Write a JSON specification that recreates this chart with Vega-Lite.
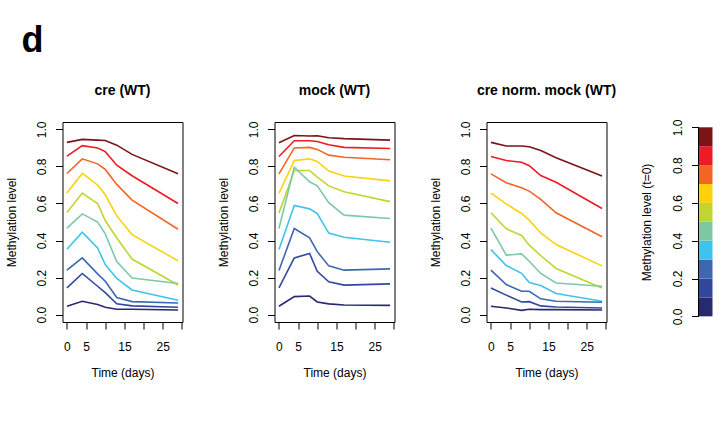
{
  "$schema": "https://vega.github.io/schema/vega-lite/v6.json",
  "background": "white",
  "padding": {"left": 4.5, "top": 23, "right": 5, "bottom": 5},
  "bounds": "flush",
  "spacing": 92,
  "title": {"text": "d", "anchor": "start", "frame": "group", "fontSize": 36, "fontWeight": "bold", "font": "Liberation Sans", "color": "black", "baseline": "alphabetic", "offset": -5, "dx": -41},
  "config": {
    "font": "Liberation Sans",
    "view": {"stroke": "black", "strokeWidth": 1},
    "axis": {"domain": false, "grid": false, "ticks": true, "tickColor": "black", "tickSize": 7, "tickWidth": 1, "labelColor": "black", "labelFontSize": 12, "labelFont": "Liberation Sans", "titleFont": "Liberation Sans", "titleFontSize": 12, "titleFontWeight": "normal", "titleColor": "black", "labelOverlap": false},
    "title": {"font": "Liberation Sans", "fontSize": 14, "fontWeight": "bold", "color": "black", "baseline": "alphabetic", "offset": 23.5}
  },
  "datasets": {
    "lines": [
      {"p":"cre","b":"b10","t":0,"m":0.93},{"p":"cre","b":"b10","t":4,"m":0.946},{"p":"cre","b":"b10","t":8,"m":0.942},{"p":"cre","b":"b10","t":10,"m":0.94},{"p":"cre","b":"b10","t":13,"m":0.915},{"p":"cre","b":"b10","t":17,"m":0.865},{"p":"cre","b":"b10","t":29,"m":0.76},
      {"p":"cre","b":"b9","t":0,"m":0.856},{"p":"cre","b":"b9","t":4,"m":0.912},{"p":"cre","b":"b9","t":8,"m":0.9},{"p":"cre","b":"b9","t":10,"m":0.88},{"p":"cre","b":"b9","t":13,"m":0.807},{"p":"cre","b":"b9","t":17,"m":0.75},{"p":"cre","b":"b9","t":29,"m":0.6},
      {"p":"cre","b":"b8","t":0,"m":0.762},{"p":"cre","b":"b8","t":4,"m":0.841},{"p":"cre","b":"b8","t":8,"m":0.814},{"p":"cre","b":"b8","t":10,"m":0.784},{"p":"cre","b":"b8","t":13,"m":0.703},{"p":"cre","b":"b8","t":17,"m":0.618},{"p":"cre","b":"b8","t":29,"m":0.461},
      {"p":"cre","b":"b7","t":0,"m":0.656},{"p":"cre","b":"b7","t":4,"m":0.762},{"p":"cre","b":"b7","t":8,"m":0.7},{"p":"cre","b":"b7","t":10,"m":0.647},{"p":"cre","b":"b7","t":13,"m":0.533},{"p":"cre","b":"b7","t":17,"m":0.432},{"p":"cre","b":"b7","t":29,"m":0.29},
      {"p":"cre","b":"b6","t":0,"m":0.551},{"p":"cre","b":"b6","t":4,"m":0.656},{"p":"cre","b":"b6","t":8,"m":0.6},{"p":"cre","b":"b6","t":10,"m":0.508},{"p":"cre","b":"b6","t":13,"m":0.414},{"p":"cre","b":"b6","t":17,"m":0.3},{"p":"cre","b":"b6","t":29,"m":0.16},
      {"p":"cre","b":"b5","t":0,"m":0.467},{"p":"cre","b":"b5","t":4,"m":0.544},{"p":"cre","b":"b5","t":8,"m":0.5},{"p":"cre","b":"b5","t":10,"m":0.436},{"p":"cre","b":"b5","t":13,"m":0.286},{"p":"cre","b":"b5","t":17,"m":0.198},{"p":"cre","b":"b5","t":29,"m":0.168},
      {"p":"cre","b":"b4","t":0,"m":0.353},{"p":"cre","b":"b4","t":4,"m":0.445},{"p":"cre","b":"b4","t":8,"m":0.36},{"p":"cre","b":"b4","t":10,"m":0.27},{"p":"cre","b":"b4","t":13,"m":0.195},{"p":"cre","b":"b4","t":17,"m":0.133},{"p":"cre","b":"b4","t":29,"m":0.077},
      {"p":"cre","b":"b3","t":0,"m":0.24},{"p":"cre","b":"b3","t":4,"m":0.306},{"p":"cre","b":"b3","t":8,"m":0.22},{"p":"cre","b":"b3","t":10,"m":0.18},{"p":"cre","b":"b3","t":13,"m":0.092},{"p":"cre","b":"b3","t":17,"m":0.07},{"p":"cre","b":"b3","t":29,"m":0.063},
      {"p":"cre","b":"b2","t":0,"m":0.144},{"p":"cre","b":"b2","t":4,"m":0.222},{"p":"cre","b":"b2","t":8,"m":0.153},{"p":"cre","b":"b2","t":10,"m":0.119},{"p":"cre","b":"b2","t":13,"m":0.058},{"p":"cre","b":"b2","t":17,"m":0.047},{"p":"cre","b":"b2","t":29,"m":0.04},
      {"p":"cre","b":"b1","t":0,"m":0.045},{"p":"cre","b":"b1","t":4,"m":0.072},{"p":"cre","b":"b1","t":8,"m":0.054},{"p":"cre","b":"b1","t":10,"m":0.04},{"p":"cre","b":"b1","t":13,"m":0.029},{"p":"cre","b":"b1","t":17,"m":0.029},{"p":"cre","b":"b1","t":29,"m":0.025},

      {"p":"mock","b":"b10","t":0,"m":0.928},{"p":"mock","b":"b10","t":4,"m":0.967},{"p":"mock","b":"b10","t":8,"m":0.964},{"p":"mock","b":"b10","t":10,"m":0.966},{"p":"mock","b":"b10","t":13,"m":0.955},{"p":"mock","b":"b10","t":17,"m":0.95},{"p":"mock","b":"b10","t":29,"m":0.942},
      {"p":"mock","b":"b9","t":0,"m":0.854},{"p":"mock","b":"b9","t":4,"m":0.939},{"p":"mock","b":"b9","t":8,"m":0.939},{"p":"mock","b":"b9","t":10,"m":0.935},{"p":"mock","b":"b9","t":13,"m":0.917},{"p":"mock","b":"b9","t":17,"m":0.903},{"p":"mock","b":"b9","t":29,"m":0.897},
      {"p":"mock","b":"b8","t":0,"m":0.76},{"p":"mock","b":"b8","t":4,"m":0.9},{"p":"mock","b":"b8","t":8,"m":0.903},{"p":"mock","b":"b8","t":10,"m":0.892},{"p":"mock","b":"b8","t":13,"m":0.861},{"p":"mock","b":"b8","t":17,"m":0.85},{"p":"mock","b":"b8","t":29,"m":0.836},
      {"p":"mock","b":"b7","t":0,"m":0.654},{"p":"mock","b":"b7","t":4,"m":0.832},{"p":"mock","b":"b7","t":8,"m":0.841},{"p":"mock","b":"b7","t":10,"m":0.827},{"p":"mock","b":"b7","t":13,"m":0.775},{"p":"mock","b":"b7","t":17,"m":0.748},{"p":"mock","b":"b7","t":29,"m":0.722},
      {"p":"mock","b":"b6","t":0,"m":0.548},{"p":"mock","b":"b6","t":4,"m":0.778},{"p":"mock","b":"b6","t":8,"m":0.778},{"p":"mock","b":"b6","t":10,"m":0.742},{"p":"mock","b":"b6","t":13,"m":0.695},{"p":"mock","b":"b6","t":17,"m":0.663},{"p":"mock","b":"b6","t":29,"m":0.61},
      {"p":"mock","b":"b5","t":0,"m":0.465},{"p":"mock","b":"b5","t":4,"m":0.796},{"p":"mock","b":"b5","t":8,"m":0.717},{"p":"mock","b":"b5","t":10,"m":0.695},{"p":"mock","b":"b5","t":13,"m":0.604},{"p":"mock","b":"b5","t":17,"m":0.537},{"p":"mock","b":"b5","t":29,"m":0.519},
      {"p":"mock","b":"b4","t":0,"m":0.351},{"p":"mock","b":"b4","t":4,"m":0.589},{"p":"mock","b":"b4","t":8,"m":0.571},{"p":"mock","b":"b4","t":10,"m":0.546},{"p":"mock","b":"b4","t":13,"m":0.44},{"p":"mock","b":"b4","t":17,"m":0.418},{"p":"mock","b":"b4","t":29,"m":0.391},
      {"p":"mock","b":"b3","t":0,"m":0.238},{"p":"mock","b":"b3","t":4,"m":0.465},{"p":"mock","b":"b3","t":8,"m":0.414},{"p":"mock","b":"b3","t":10,"m":0.34},{"p":"mock","b":"b3","t":13,"m":0.263},{"p":"mock","b":"b3","t":17,"m":0.24},{"p":"mock","b":"b3","t":29,"m":0.247},
      {"p":"mock","b":"b2","t":0,"m":0.144},{"p":"mock","b":"b2","t":4,"m":0.306},{"p":"mock","b":"b2","t":8,"m":0.33},{"p":"mock","b":"b2","t":10,"m":0.234},{"p":"mock","b":"b2","t":13,"m":0.177},{"p":"mock","b":"b2","t":17,"m":0.159},{"p":"mock","b":"b2","t":29,"m":0.166},
      {"p":"mock","b":"b1","t":0,"m":0.045},{"p":"mock","b":"b1","t":4,"m":0.097},{"p":"mock","b":"b1","t":8,"m":0.1},{"p":"mock","b":"b1","t":10,"m":0.068},{"p":"mock","b":"b1","t":13,"m":0.058},{"p":"mock","b":"b1","t":17,"m":0.052},{"p":"mock","b":"b1","t":29,"m":0.05},

      {"p":"norm","b":"b10","t":0,"m":0.93},{"p":"norm","b":"b10","t":4,"m":0.91},{"p":"norm","b":"b10","t":8,"m":0.91},{"p":"norm","b":"b10","t":10,"m":0.906},{"p":"norm","b":"b10","t":13,"m":0.886},{"p":"norm","b":"b10","t":17,"m":0.847},{"p":"norm","b":"b10","t":29,"m":0.748},
      {"p":"norm","b":"b9","t":0,"m":0.854},{"p":"norm","b":"b9","t":4,"m":0.832},{"p":"norm","b":"b9","t":8,"m":0.823},{"p":"norm","b":"b9","t":10,"m":0.804},{"p":"norm","b":"b9","t":13,"m":0.751},{"p":"norm","b":"b9","t":17,"m":0.715},{"p":"norm","b":"b9","t":29,"m":0.573},
      {"p":"norm","b":"b8","t":0,"m":0.76},{"p":"norm","b":"b8","t":4,"m":0.712},{"p":"norm","b":"b8","t":8,"m":0.685},{"p":"norm","b":"b8","t":10,"m":0.667},{"p":"norm","b":"b8","t":13,"m":0.622},{"p":"norm","b":"b8","t":17,"m":0.55},{"p":"norm","b":"b8","t":29,"m":0.42},
      {"p":"norm","b":"b7","t":0,"m":0.656},{"p":"norm","b":"b7","t":4,"m":0.598},{"p":"norm","b":"b7","t":8,"m":0.546},{"p":"norm","b":"b7","t":10,"m":0.51},{"p":"norm","b":"b7","t":13,"m":0.441},{"p":"norm","b":"b7","t":17,"m":0.378},{"p":"norm","b":"b7","t":29,"m":0.263},
      {"p":"norm","b":"b6","t":0,"m":0.55},{"p":"norm","b":"b6","t":4,"m":0.463},{"p":"norm","b":"b6","t":8,"m":0.427},{"p":"norm","b":"b6","t":10,"m":0.375},{"p":"norm","b":"b6","t":13,"m":0.319},{"p":"norm","b":"b6","t":17,"m":0.249},{"p":"norm","b":"b6","t":29,"m":0.144},
      {"p":"norm","b":"b5","t":0,"m":0.467},{"p":"norm","b":"b5","t":4,"m":0.321},{"p":"norm","b":"b5","t":8,"m":0.328},{"p":"norm","b":"b5","t":10,"m":0.288},{"p":"norm","b":"b5","t":13,"m":0.222},{"p":"norm","b":"b5","t":17,"m":0.171},{"p":"norm","b":"b5","t":29,"m":0.153},
      {"p":"norm","b":"b4","t":0,"m":0.351},{"p":"norm","b":"b4","t":4,"m":0.265},{"p":"norm","b":"b4","t":8,"m":0.223},{"p":"norm","b":"b4","t":10,"m":0.173},{"p":"norm","b":"b4","t":13,"m":0.157},{"p":"norm","b":"b4","t":17,"m":0.114},{"p":"norm","b":"b4","t":29,"m":0.072},
      {"p":"norm","b":"b3","t":0,"m":0.24},{"p":"norm","b":"b3","t":4,"m":0.162},{"p":"norm","b":"b3","t":8,"m":0.126},{"p":"norm","b":"b3","t":10,"m":0.126},{"p":"norm","b":"b3","t":13,"m":0.085},{"p":"norm","b":"b3","t":17,"m":0.072},{"p":"norm","b":"b3","t":29,"m":0.067},
      {"p":"norm","b":"b2","t":0,"m":0.144},{"p":"norm","b":"b2","t":4,"m":0.105},{"p":"norm","b":"b2","t":8,"m":0.068},{"p":"norm","b":"b2","t":10,"m":0.07},{"p":"norm","b":"b2","t":13,"m":0.047},{"p":"norm","b":"b2","t":17,"m":0.041},{"p":"norm","b":"b2","t":29,"m":0.036},
      {"p":"norm","b":"b1","t":0,"m":0.045},{"p":"norm","b":"b1","t":4,"m":0.036},{"p":"norm","b":"b1","t":8,"m":0.023},{"p":"norm","b":"b1","t":10,"m":0.029},{"p":"norm","b":"b1","t":13,"m":0.027},{"p":"norm","b":"b1","t":17,"m":0.027},{"p":"norm","b":"b1","t":29,"m":0.025}
    ],
    "key": [
      {"b":"b1","lo":0.0,"hi":0.1},{"b":"b2","lo":0.1,"hi":0.2},{"b":"b3","lo":0.2,"hi":0.3},{"b":"b4","lo":0.3,"hi":0.4},{"b":"b5","lo":0.4,"hi":0.5},
      {"b":"b6","lo":0.5,"hi":0.6},{"b":"b7","lo":0.6,"hi":0.7},{"b":"b8","lo":0.7,"hi":0.8},{"b":"b9","lo":0.8,"hi":0.9},{"b":"b10","lo":0.9,"hi":1.0}
    ]
  },
  "hconcat": [
    {
      "title": "cre (WT)",
      "width": 120, "height": 200,
      "data": {"name": "lines"},
      "transform": [{"filter": "datum.p === 'cre'"}],
      "mark": {"type": "line", "strokeWidth": 1.6},
      "encoding": {
        "x": {"field": "t", "type": "quantitative", "scale": {"domain": [-1.16, 30.16], "nice": false, "zero": false},
              "axis": {"values": [0,5,10,15,20,25,30], "labelExpr": "datum.value % 10 === 0 && datum.value > 0 ? '' : datum.label", "labelBaseline": "alphabetic", "labelPadding": 21.5, "labelFlush": false, "labelOverlap": false, "title": "Time (days)", "titleBaseline": "alphabetic", "titleY": 54.5, "titleX": 60}},
        "y": {"field": "m", "type": "quantitative", "scale": {"domain": [-0.04, 1.04], "nice": false, "zero": false},
              "axis": {"values": [0,0.2,0.4,0.6,0.8,1], "format": ".1f", "labelAngle": -90, "labelAlign": "center", "labelBaseline": "alphabetic", "labelPadding": 10, "labelOverlap": false, "labelFlush": false, "title": "Methylation level", "titleAngle": -90, "titleAlign": "center", "titleBaseline": "alphabetic", "titleX": -47.5, "titleY": 100}},
        "color": {"field": "b", "type": "nominal", "scale": {"domain": ["b1","b2","b3","b4","b5","b6","b7","b8","b9","b10"], "range": ["#262a6e","#32489e","#3c68b1","#3ec3ef","#7fc8a6","#c0d52f","#fdd10c","#f26524","#ec1c24","#7b1416"]}, "legend": null}
      }
    },
    {
      "title": "mock (WT)",
      "width": 120, "height": 200,
      "data": {"name": "lines"},
      "transform": [{"filter": "datum.p === 'mock'"}],
      "mark": {"type": "line", "strokeWidth": 1.6},
      "encoding": {
        "x": {"field": "t", "type": "quantitative", "scale": {"domain": [-1.16, 30.16], "nice": false, "zero": false},
              "axis": {"values": [0,5,10,15,20,25,30], "labelExpr": "datum.value % 10 === 0 && datum.value > 0 ? '' : datum.label", "labelBaseline": "alphabetic", "labelPadding": 21.5, "labelFlush": false, "labelOverlap": false, "title": "Time (days)", "titleBaseline": "alphabetic", "titleY": 54.5, "titleX": 60}},
        "y": {"field": "m", "type": "quantitative", "scale": {"domain": [-0.04, 1.04], "nice": false, "zero": false},
              "axis": {"values": [0,0.2,0.4,0.6,0.8,1], "format": ".1f", "labelAngle": -90, "labelAlign": "center", "labelBaseline": "alphabetic", "labelPadding": 10, "labelOverlap": false, "labelFlush": false, "title": "Methylation level", "titleAngle": -90, "titleAlign": "center", "titleBaseline": "alphabetic", "titleX": -47.5, "titleY": 100}},
        "color": {"field": "b", "type": "nominal", "scale": {"domain": ["b1","b2","b3","b4","b5","b6","b7","b8","b9","b10"], "range": ["#262a6e","#32489e","#3c68b1","#3ec3ef","#7fc8a6","#c0d52f","#fdd10c","#f26524","#ec1c24","#7b1416"]}, "legend": null}
      }
    },
    {
      "title": "cre norm. mock (WT)",
      "width": 120, "height": 200,
      "data": {"name": "lines"},
      "transform": [{"filter": "datum.p === 'norm'"}],
      "mark": {"type": "line", "strokeWidth": 1.6},
      "encoding": {
        "x": {"field": "t", "type": "quantitative", "scale": {"domain": [-1.16, 30.16], "nice": false, "zero": false},
              "axis": {"values": [0,5,10,15,20,25,30], "labelExpr": "datum.value % 10 === 0 && datum.value > 0 ? '' : datum.label", "labelBaseline": "alphabetic", "labelPadding": 21.5, "labelFlush": false, "labelOverlap": false, "title": "Time (days)", "titleBaseline": "alphabetic", "titleY": 54.5, "titleX": 60}},
        "y": {"field": "m", "type": "quantitative", "scale": {"domain": [-0.04, 1.04], "nice": false, "zero": false},
              "axis": {"values": [0,0.2,0.4,0.6,0.8,1], "format": ".1f", "labelAngle": -90, "labelAlign": "center", "labelBaseline": "alphabetic", "labelPadding": 10, "labelOverlap": false, "labelFlush": false, "title": "Methylation level", "titleAngle": -90, "titleAlign": "center", "titleBaseline": "alphabetic", "titleX": -47.5, "titleY": 100}},
        "color": {"field": "b", "type": "nominal", "scale": {"domain": ["b1","b2","b3","b4","b5","b6","b7","b8","b9","b10"], "range": ["#262a6e","#32489e","#3c68b1","#3ec3ef","#7fc8a6","#c0d52f","#fdd10c","#f26524","#ec1c24","#7b1416"]}, "legend": null}
      }
    },
    {
      "width": 14, "height": 200,
      "view": {"stroke": null},
      "layer": [
        {
          "data": {"name": "key"},
          "mark": {"type": "rect"},
          "encoding": {
            "x": {"datum": 0, "type": "quantitative", "scale": {"domain": [0, 1], "nice": false, "zero": false}, "axis": null},
            "x2": {"datum": 1},
            "y": {"field": "lo", "type": "quantitative", "scale": {"domain": [-0.03, 1.028], "nice": false, "zero": false},
                  "axis": {"values": [0,0.2,0.4,0.6,0.8,1], "format": ".1f", "labelAngle": -90, "labelAlign": "center", "labelBaseline": "alphabetic", "labelPadding": 10, "labelOverlap": false, "labelFlush": false, "title": "Methylation level (t=0)", "titleAngle": -90, "titleAlign": "center", "titleBaseline": "alphabetic", "titleX": -48, "titleY": 100}},
            "y2": {"field": "hi"},
            "color": {"field": "b", "type": "nominal", "scale": {"domain": ["b1","b2","b3","b4","b5","b6","b7","b8","b9","b10"], "range": ["#262a6e","#32489e","#3c68b1","#3ec3ef","#7fc8a6","#c0d52f","#fdd10c","#f26524","#ec1c24","#7b1416"]}, "legend": null}
          }
        },
        {
          "data": {"values": [{"lo": 0, "hi": 1}]},
          "mark": {"type": "rule", "color": "black", "strokeWidth": 1},
          "encoding": {
            "x": {"datum": 0, "type": "quantitative"},
            "y": {"field": "lo", "type": "quantitative", "axis": {"values": [0,0.2,0.4,0.6,0.8,1], "format": ".1f", "labelAngle": -90, "labelAlign": "center", "labelBaseline": "alphabetic", "labelPadding": 10, "labelOverlap": false, "labelFlush": false, "title": "Methylation level (t=0)", "titleAngle": -90, "titleAlign": "center", "titleBaseline": "alphabetic", "titleX": -48, "titleY": 100}},
            "y2": {"field": "hi"}
          }
        }
      ]
    }
  ]
}
